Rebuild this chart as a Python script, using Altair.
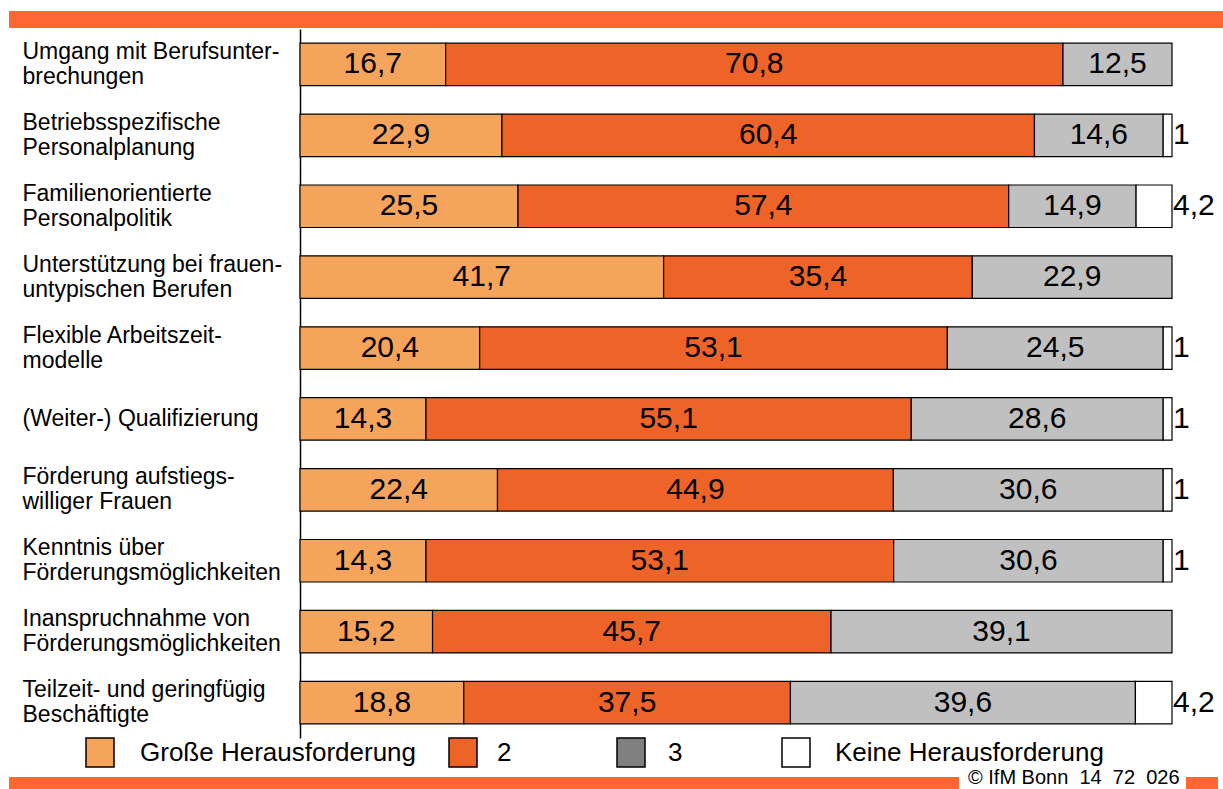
import altair as alt
import pandas as pd

FONT = "Liberation Sans"

# Handlungsfelder (Zeilen), von oben nach unten
bereiche = [
    "Umgang mit Berufsunter-\nbrechungen",
    "Betriebsspezifische\nPersonalplanung",
    "Familienorientierte\nPersonalpolitik",
    "Unterstützung bei frauen-\nuntypischen Berufen",
    "Flexible Arbeitszeit-\nmodelle",
    "(Weiter-) Qualifizierung",
    "Förderung aufstiegs-\nwilliger Frauen",
    "Kenntnis über\nFörderungsmöglichkeiten",
    "Inanspruchnahme von\nFörderungsmöglichkeiten",
    "Teilzeit- und geringfügig\nBeschäftigte",
]

# Anteile in Prozent je Stufe (None = kein Wert)
grosse_herausforderung = [16.7, 22.9, 25.5, 41.7, 20.4, 14.3, 22.4, 14.3, 15.2, 18.8]
stufe_2 = [70.8, 60.4, 57.4, 35.4, 53.1, 55.1, 44.9, 53.1, 45.7, 37.5]
stufe_3 = [12.5, 14.6, 14.9, 22.9, 24.5, 28.6, 30.6, 30.6, 39.1, 39.6]
keine_herausforderung = [None, 1, 4.2, None, 1, 1, 1, 1, None, 4.2]

stufen = ["Große Herausforderung", "2", "3", "Keine Herausforderung"]
stufen_farben = ["#F5A55B", "#EE6428", "#C0C0C0", "#FFFFFF"]
legende_farben = ["#F5A55B", "#EE6428", "#808080", "#FFFFFF"]
balken_orange = "#FF6633"
copyright_text = "© IfM Bonn \u00a014 \u00a072 \u00a0026"


def zahl(v):
    return f"{v:g}".replace(".", ",")


zeilen = []
for i, b in enumerate(bereiche):
    for rang, werte in enumerate(
        [grosse_herausforderung, stufe_2, stufe_3, keine_herausforderung]
    ):
        v = werte[i]
        if v is None:
            continue
        zeilen.append(
            {"Bereich": b, "Stufe": stufen[rang], "Rang": rang, "Wert": v, "Text": zahl(v)}
        )
df = pd.DataFrame(zeilen)

y_enc = alt.Y(
    "Bereich:N",
    sort=bereiche,
    scale=alt.Scale(paddingInner=0.4, paddingOuter=0.2),
    axis=alt.Axis(
        title=None,
        ticks=False,
        tickSize=0,
        labelAlign="left",
        labelBaseline="middle",
        labelPadding=278,
        labelOffset={
            "condition": {"test": "indexof(datum.label, '\\n') >= 0", "value": -12.5},
            "value": 0,
        },
        labelFont=FONT,
        labelFontSize=23,
        labelColor="black",
        labelLineHeight=25,
        labelLimit=300,
        labelExpr="split(datum.label, '\\n')",
        domainColor="black",
        domainWidth=1.5,
        grid=False,
    ),
)
x_scale = alt.Scale(domain=[0, 1])

base = alt.Chart(df).transform_stack(
    stack="Wert",
    groupby=["Bereich"],
    as_=["x0", "x1"],
    sort=[alt.SortField("Rang", order="ascending")],
    offset="normalize",
).transform_calculate(mitte="(datum.x0 + datum.x1) / 2")

balken = base.mark_bar(stroke="black", strokeWidth=1.2).encode(
    y=y_enc,
    x=alt.X("x0:Q", scale=x_scale, axis=None),
    x2="x1:Q",
    fill=alt.Fill(
        "Stufe:N",
        scale=alt.Scale(domain=stufen, range=stufen_farben),
        legend=None,
    ),
)

werte_text = base.transform_filter("datum.Rang < 3").mark_text(
    font=FONT, fontSize=30, color="black", align="center", baseline="middle"
).encode(y=y_enc, x=alt.X("mitte:Q", scale=x_scale, axis=None), text="Text:N")

rest_text = base.transform_filter("datum.Rang == 3").mark_text(
    font=FONT, fontSize=30, color="black", align="left", baseline="middle", dx=1
).encode(y=y_enc, x=alt.X("x1:Q", scale=x_scale, axis=None), text="Text:N")

eins = pd.DataFrame({"n": [1]})

# Rahmenbalken oben und unten
band_oben = alt.Chart(eins).mark_rect(color=balken_orange).encode(
    x=alt.value(-291), x2=alt.value(923), y=alt.value(-18), y2=alt.value(-1)
)
band_unten_links = alt.Chart(eins).mark_rect(color=balken_orange).encode(
    x=alt.value(-291), x2=alt.value(659), y=alt.value(748), y2=alt.value(760)
)
band_unten_rechts = alt.Chart(eins).mark_rect(color=balken_orange).encode(
    x=alt.value(886), x2=alt.value(918), y=alt.value(748), y2=alt.value(760)
)
quelle = alt.Chart(pd.DataFrame({"t": [copyright_text]})).mark_text(
    font=FONT, fontSize=20, color="black", align="left", baseline="alphabetic"
).encode(x=alt.value(668), y=alt.value(755), text="t:N")

# Legende unter dem Diagramm: Kästchen und Beschriftung je Stufe
legende_kaestchen_x = [-214, 149, 317, 482]
legende_text_x = [-160, 197, 368, 535]
legende = []
for stufe, farbe, kx, tx in zip(stufen, legende_farben, legende_kaestchen_x, legende_text_x):
    eintrag = pd.DataFrame({"Stufe": [stufe]})
    legende.append(
        alt.Chart(eintrag).mark_rect(fill=farbe, stroke="black", strokeWidth=1.5).encode(
            x=alt.value(kx), x2=alt.value(kx + 28), y=alt.value(709), y2=alt.value(738)
        )
    )
    legende.append(
        alt.Chart(eintrag).mark_text(
            font=FONT, fontSize=26, color="black", align="left", baseline="alphabetic"
        ).encode(x=alt.value(tx), y=alt.value(732), text="Stufe:N")
    )

chart = (
    alt.layer(
        band_oben,
        band_unten_links,
        band_unten_rechts,
        quelle,
        balken,
        werte_text,
        rest_text,
        *legende,
    )
    .properties(
        width=872,
        height=709,
        padding={"left": 300, "top": 29, "right": 51, "bottom": 51},
        autosize=alt.AutoSizeParams(type="none"),
        background="white",
    )
    .configure_view(stroke=None)
)

chart.save("out.html", embed_options={"renderer": "svg", "actions": False})
